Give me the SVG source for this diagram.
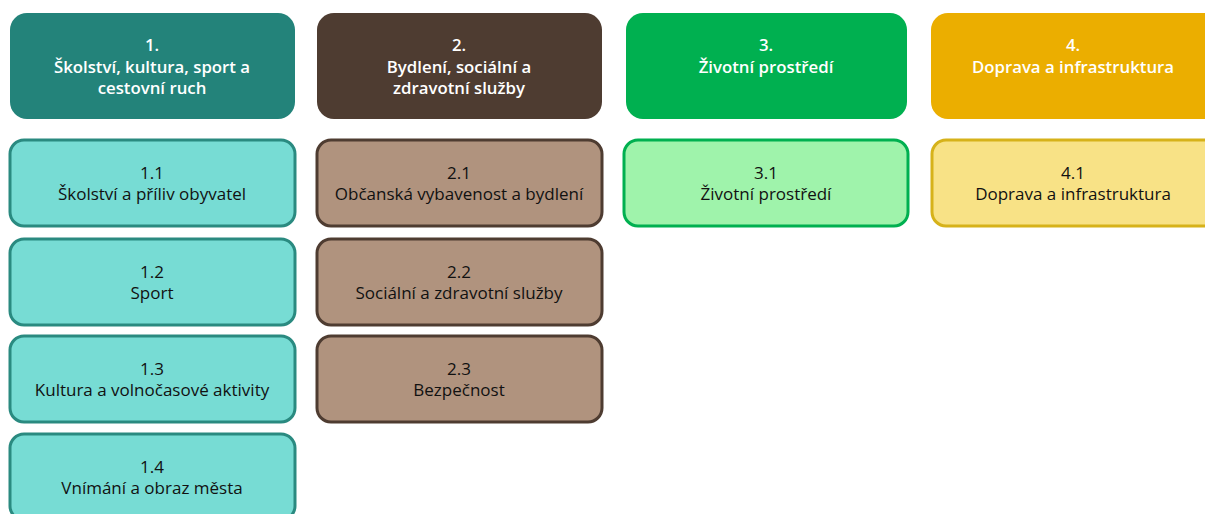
<svg xmlns="http://www.w3.org/2000/svg" width="1205" height="514" viewBox="0 0 1205 514">
<style>
text{font-family:"Open Sans","Liberation Sans",sans-serif;text-anchor:middle}
.h text{fill:#fff;font-weight:600;font-size:16.8px}
.s text{fill:#111;font-size:17px}
.c1h{fill:#23837a}.c2h{fill:#4e3c31}.c3h{fill:#00b050}.c4h{fill:#ebae00}
.c1s{fill:#77dcd4;stroke:#2a8a80;stroke-width:3}
.c2s{fill:#b0937e;stroke:#4e3c31;stroke-width:3}
.c3s{fill:#9ff3ab;stroke:#00b050;stroke-width:3}
.c4s{fill:#f8e286;stroke:#d6b21a;stroke-width:3}
</style>
<rect width="1205" height="514" fill="#fff"/>
<g id="h1" class="h"><rect class="c1h" x="10" y="13" width="285" height="106" rx="17"/><text x="152" y="51">1.</text><text x="152" y="73">Školství, kultura, sport a</text><text x="152" y="94">cestovní ruch</text></g>
<g id="h2" class="h"><rect class="c2h" x="317" y="13" width="285" height="106" rx="17"/><text x="459" y="51">2.</text><text x="459" y="73">Bydlení, sociální a</text><text x="459" y="94">zdravotní služby</text></g>
<g id="h3" class="h"><rect class="c3h" x="626" y="13" width="281" height="106" rx="17"/><text x="766" y="51">3.</text><text x="766" y="73">Životní prostředí</text></g>
<g id="h4" class="h"><rect class="c4h" x="931" y="13" width="290" height="106" rx="17"/><text x="1073" y="51">4.</text><text x="1073" y="73">Doprava a infrastruktura</text></g>
<g id="s11" class="s"><rect class="c1s" x="10" y="140" width="285" height="86" rx="14"/><text x="152" y="179">1.1</text><text x="152" y="200">Školství a příliv obyvatel</text></g>
<g id="s12" class="s"><rect class="c1s" x="10" y="239" width="285" height="86" rx="14"/><text x="152" y="278">1.2</text><text x="152" y="299">Sport</text></g>
<g id="s13" class="s"><rect class="c1s" x="10" y="336" width="285" height="86" rx="14"/><text x="152" y="375">1.3</text><text x="152" y="396">Kultura a volnočasové aktivity</text></g>
<g id="s14" class="s"><rect class="c1s" x="10" y="434" width="285" height="86" rx="14"/><text x="152" y="473">1.4</text><text x="152" y="494">Vnímání a obraz města</text></g>
<g id="s21" class="s"><rect class="c2s" x="317" y="140" width="285" height="86" rx="14"/><text x="459" y="179">2.1</text><text x="459" y="200">Občanská vybavenost a bydlení</text></g>
<g id="s22" class="s"><rect class="c2s" x="317" y="239" width="285" height="86" rx="14"/><text x="459" y="278">2.2</text><text x="459" y="299">Sociální a zdravotní služby</text></g>
<g id="s23" class="s"><rect class="c2s" x="317" y="336" width="285" height="86" rx="14"/><text x="459" y="375">2.3</text><text x="459" y="396">Bezpečnost</text></g>
<g id="s31" class="s"><rect class="c3s" x="624" y="140" width="284" height="86" rx="14"/><text x="766" y="179">3.1</text><text x="766" y="200">Životní prostředí</text></g>
<g id="s41" class="s"><rect class="c4s" x="932" y="140" width="290" height="86" rx="14"/><text x="1073" y="179">4.1</text><text x="1073" y="200">Doprava a infrastruktura</text></g>
<g id="connectors"/>
</svg>
